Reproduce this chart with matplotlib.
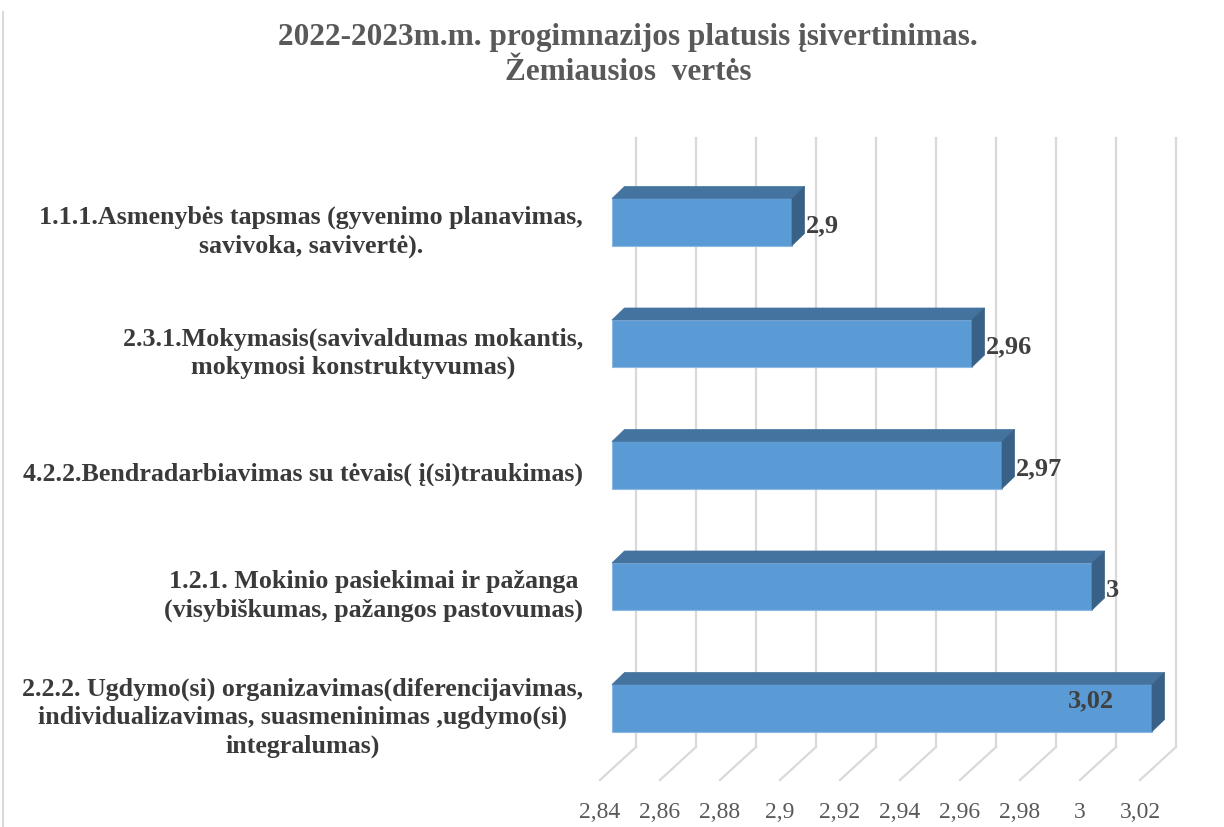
import numpy as np
import matplotlib.pyplot as plt
from matplotlib.patches import Polygon
from matplotlib.lines import Line2D

# data
categories = [
    "1.1.1.Asmenybės tapsmas (gyvenimo planavimas,\nsavivoka, savivertė).",
    "2.3.1.Mokymasis(savivaldumas mokantis,\nmokymosi konstruktyvumas)",
    "4.2.2.Bendradarbiavimas su tėvais( į(si)traukimas)",
    "1.2.1. Mokinio pasiekimai ir pažanga\n(visybiškumas, pažangos pastovumas)",
    "2.2.2. Ugdymo(si) organizavimas(diferencijavimas,\nindividualizavimas, suasmeninimas ,ugdymo(si)\nintegralumas)",
]
values = [2.9, 2.96, 2.97, 3.0, 3.02]
ticks = [2.84, 2.86, 2.88, 2.9, 2.92, 2.94, 2.96, 2.98, 3.0, 3.02]
title = "2022-2023m.m. progimnazijos platusis įsivertinimas.\nŽemiausios  vertės"

plt.rcParams['font.family'] = ['Liberation Serif', 'DejaVu Serif']

W, H = 1224, 827
fig = plt.figure(figsize=(W / 100, H / 100), dpi=100)
ax = fig.add_axes([0, 0, 1, 1])
ax.axis('off')

# pixel mapping of the pseudo-3d plot
xmin = ticks[0]
px_per_unit = 3000.0
x0_px = 612
row_px = 121.5
y0_px = 222
ax.set_xlim(xmin - x0_px / px_per_unit, xmin + (W - x0_px) / px_per_unit)
ax.set_ylim((H - y0_px) / row_px, -y0_px / row_px)

front_off = -12 / px_per_unit
back_off = 24 / px_per_unit
grid_top = (138 - y0_px) / row_px
back_bottom = (747 - y0_px) / row_px
front_bottom = (780 - y0_px) / row_px
tick_y = (813 - y0_px) / row_px

grid_c = '#D9D9D9'
for t in ticks:
    ax.plot([t + back_off, t + back_off], [grid_top, back_bottom], color=grid_c, lw=1.6, zorder=1)
    ax.plot([t + back_off, t + front_off], [back_bottom, front_bottom], color=grid_c, lw=1.6, zorder=1)
    lab = f"{t:g}".replace('.', ',')
    ax.text(t + front_off, tick_y, lab, ha='center', va='center', fontsize=17, color='#595959')

# bars
pos = np.arange(len(values))
bh = 0.387
dx = 12.5 / px_per_unit
dy = 12 / row_px
front_c = '#5B9BD5'
top_c = '#44739F'
side_c = '#396188'
ax.barh(pos, np.array(values) - xmin, left=xmin, height=bh, color=front_c,
        edgecolor='#8DB8E2', linewidth=0.8, zorder=3)
for i, v in zip(pos, values):
    yt = i - bh / 2
    yb = i + bh / 2
    ax.add_patch(Polygon([(xmin, yt), (v, yt), (v + dx, yt - dy), (xmin + dx, yt - dy)],
                         closed=True, facecolor=top_c, edgecolor=top_c, lw=0.5, zorder=3))
    ax.add_patch(Polygon([(v, yt), (v + dx, yt - dy), (v + dx, yb - dy), (v, yb)],
                         closed=True, facecolor=side_c, edgecolor=side_c, lw=0.5, zorder=3))
    lab = f"{v:g}".replace('.', ',')
    if v >= ticks[-1]:
        ax.text(v - 0.0125, i - 0.06, lab, ha='right', va='center', fontsize=19,
                fontweight='bold', color='#404040', zorder=4)
    else:
        ax.text(v + dx + 0.0003, i + 0.03, lab, ha='left', va='center', fontsize=19,
                fontweight='bold', color='#404040', zorder=4)

# category labels
for i, c in zip(pos, categories):
    ax.text(xmin - 29 / px_per_unit, i + 0.08, c, ha='right', va='center', ma='center',
            fontsize=18.7, fontweight='bold', color='#3A3A3A', linespacing=1.3)

fig.text(0.513, 1 - 55 / H, title, ha='center', va='center', fontsize=22.5,
         fontweight='bold', color='#595959', linespacing=1.25)

fig.add_artist(Line2D([3 / W, 3 / W], [0, 1 - 12 / H], color=grid_c, lw=1.5))

fig.savefig('out.png', dpi=100)
